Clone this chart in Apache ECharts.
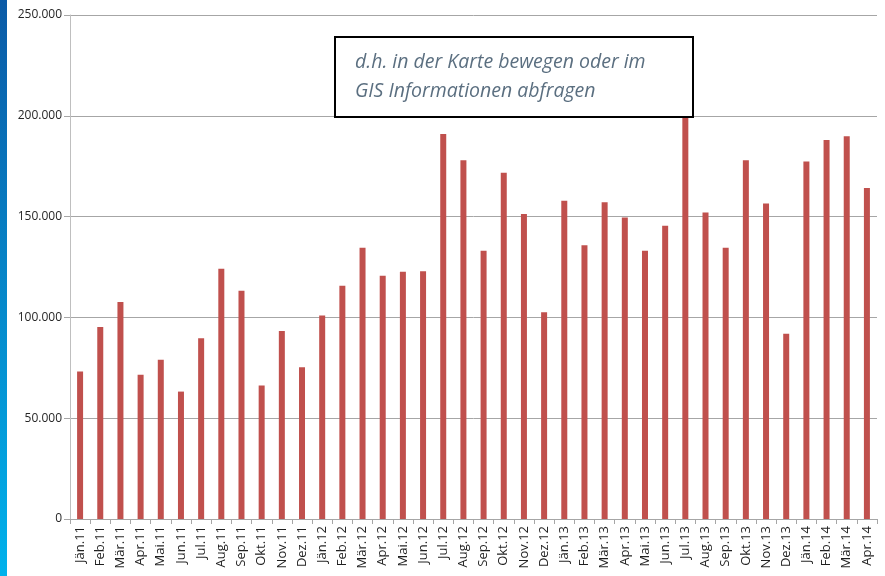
<!DOCTYPE html>
<html>
<head>
<meta charset="utf-8">
<title>Zugriffe</title>
<script src="https://cdn.jsdelivr.net/npm/echarts@6/dist/echarts.min.js"></script>
<style>
  html, body { margin: 0; padding: 0; background: #fff; }
  #chart { width: 885px; height: 576px; }
</style>
</head>
<body>
<div id="chart"></div>
<script>
// Monate
var months = ['Jän.11', 'Feb.11', 'Mär.11', 'Apr.11', 'Mai.11', 'Jun.11', 'Jul.11', 'Aug.11', 'Sep.11', 'Okt.11', 'Nov.11', 'Dez.11',
    'Jän.12', 'Feb.12', 'Mär.12', 'Apr.12', 'Mai.12', 'Jun.12', 'Jul.12', 'Aug.12', 'Sep.12', 'Okt.12', 'Nov.12', 'Dez.12',
    'Jän.13', 'Feb.13', 'Mär.13', 'Apr.13', 'Mai.13', 'Jun.13', 'Jul.13', 'Aug.13', 'Sep.13', 'Okt.13', 'Nov.13', 'Dez.13',
    'Jän.14', 'Feb.14', 'Mär.14', 'Apr.14'];
// Zugriffe pro Monat
var values = [73200, 95300, 107600, 71600, 79000, 63200, 89600, 124100, 113200, 66200, 93200, 75300,
    100900, 115700, 134500, 120600, 122600, 122900, 191000, 177900, 133100, 171800, 151300, 102500,
    157900, 135800, 157100, 149500, 133100, 145500, 204000, 152000, 134500, 177900, 156500, 91900,
    177300, 188000, 189900, 164200];
// Achsenticks
var yTicks = [0, 50000, 100000, 150000, 200000, 250000];
var noteLines = ['d.h. in der Karte bewegen oder im', 'GIS Informationen abfragen'];

// 250000 -> 250.000
function fmt(v) {
    return String(v).replace(/\B(?=(\d{3})+(?!\d))/g, '.');
}

var noteText = {
    fontFamily: 'Open Sans',
    fontStyle: 'italic',
    fontSize: 19.5,
    fill: '#5b6f80',
    verticalAlign: 'middle'
};

var chart = echarts.init(document.getElementById('chart'));
var option = {
    animation: false,
    grid: { left: 70, right: 8, top: 15, bottom: 57, containLabel: false },
    xAxis: {
        type: 'category',
        data: months,
        boundaryGap: true,
        axisLine: { lineStyle: { color: '#a6a6a6', width: 1 } },
        axisTick: { show: true, interval: 0, length: 5, lineStyle: { color: '#a6a6a6' } },
        axisLabel: {
            interval: 0,
            rotate: 90,
            margin: 7,
            fontFamily: 'Open Sans',
            fontSize: 13,
            color: '#1f1f1f'
        }
    },
    yAxis: {
        type: 'value',
        min: yTicks[0],
        max: yTicks[yTicks.length - 1],
        interval: yTicks[1] - yTicks[0],
        axisLine: { show: true, lineStyle: { color: '#bfbfbf' } },
        axisTick: { show: true, length: 6, lineStyle: { color: '#a6a6a6' } },
        splitLine: { lineStyle: { color: '#a6a6a6', width: 1 } },
        axisLabel: {
            margin: 8,
            fontFamily: 'Open Sans',
            fontSize: 12,
            color: '#262626',
            formatter: fmt
        }
    },
    series: [{
        type: 'bar',
        data: values,
        barWidth: 6,
        z: 2,
        itemStyle: { color: '#c0504d' }
    }],
    graphic: {
        elements: [
            {
                // blauer Rand links
                type: 'rect',
                left: 0, top: 0,
                shape: { width: 7, height: 576 },
                style: {
                    fill: new echarts.graphic.LinearGradient(0, 0, 0, 1, [
                        { offset: 0, color: '#0b5aa6' },
                        { offset: 1, color: '#00b2ec' }
                    ])
                },
                z: 100
            },
            // Notiz ueber den Balken
            {
                type: 'rect',
                x: 335, y: 37,
                shape: { x: 0, y: 0, width: 358, height: 80 },
                style: { fill: '#fff', stroke: '#000', lineWidth: 2 },
                z: 100
            },
            {
                type: 'text',
                x: 355, y: 62,
                style: Object.assign({ text: noteLines[0] }, noteText),
                z: 101
            },
            {
                type: 'text',
                x: 355, y: 91,
                style: Object.assign({ text: noteLines[1] }, noteText),
                z: 101
            }
        ]
    }
};
chart.setOption(option);
</script>
</body>
</html>
